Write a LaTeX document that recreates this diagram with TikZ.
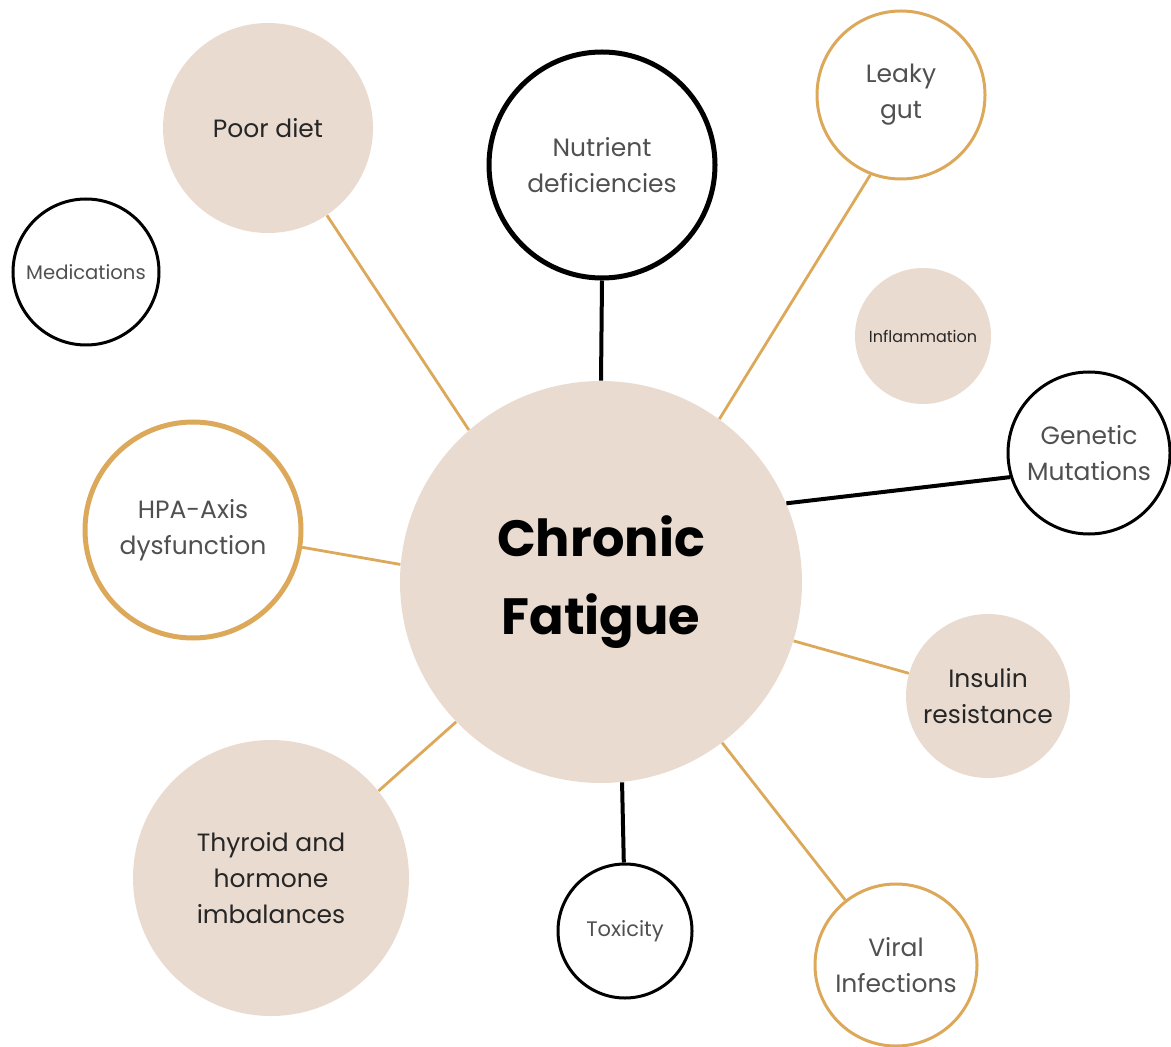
\documentclass[tikz,border=0pt]{standalone}
\usepackage{fontspec}
\setmainfont{Poppins}
\usepackage{tikz}
\usetikzlibrary{positioning}
\definecolor{sand}{HTML}{EADBD0}
\definecolor{mustard}{HTML}{DCA85A}
\definecolor{ink}{HTML}{505050}
\tikzset{%
  % circles round the hub
            hub/.style   = {circle, fill=sand, minimum size=201pt, align=center,
                            font=\fontsize{25.5}{39}\selectfont\bfseries},
            filled/.style = {circle, fill=sand, align=center, text=black!85,
                            font=\fontsize{12.5}{18}\selectfont},
            blackring/.style = {circle, draw=black, line width=1.5pt, align=center,
                            text=ink, font=\fontsize{12.5}{18}\selectfont},
            goldring/.style  = {circle, draw=mustard, line width=1.5pt, align=center,
                            text=ink, font=\fontsize{12.5}{18}\selectfont},
            goldlink/.style  = {draw=mustard, line width=1.4pt},
            blacklink/.style = {draw=black, line width=2pt}
}

\begin{document}
\begin{tikzpicture}[x=0.5pt, y=-0.5pt]
    \useasboundingbox (0,0) rectangle (1171,1047);

    \node (fatigue)  [hub]                                      at (601,582) {Chronic\\Fatigue};
    \node (diet)     [filled, minimum size=105pt]               at (268,128) {Poor diet};
    \node (nutrient) [blackring, minimum size=113pt, line width=2.5pt] at (602,165) {Nutrient\\deficiencies};
    \node (leaky)    [goldring, minimum size=84pt]              at (901,95)  {Leaky\\gut};
    \node (meds)     [blackring, minimum size=73pt, font=\fontsize{9.8}{12}\selectfont] at (86,272) {Medications};
    \node (inflam)   [filled, minimum size=68pt, font=\fontsize{8}{10}\selectfont] at (923,336) {Inflammation};
    \node (genetic)  [blackring, minimum size=81pt]             at (1089,453) {Genetic\\Mutations};
    \node (hpa)      [goldring, minimum size=108pt, line width=2.5pt] at (193,530) {HPA-Axis\\dysfunction};
    \node (insulin)  [filled, minimum size=82pt]                at (988,696) {Insulin\\resistance};
    \node (thyroid)  [filled, minimum size=138pt]               at (271,878) {Thyroid and\\hormone\\imbalances};
    \node (toxic)    [blackring, minimum size=67pt, font=\fontsize{10.5}{14}\selectfont] at (625,931) {Toxicity};
    \node (viral)    [goldring, minimum size=81pt]              at (896,965) {Viral\\Infections};

    \draw[goldlink]  (diet.304)    -- (fatigue.131);
    \draw[blacklink] (nutrient.south) -- (fatigue.north);
    \draw[goldlink]  (leaky.249)   -- (fatigue.54);
    \draw[blacklink] (genetic.197) -- (fatigue.23);
    \draw[goldlink]  (hpa.351)     -- (fatigue.175);
    \draw[goldlink]  (insulin.164) -- (fatigue.343);
    \draw[goldlink]  (thyroid.39)  -- (fatigue.224);
    \draw[blacklink] (toxic.91)    -- (fatigue.276);
    \draw[goldlink]  (viral.128)   -- (fatigue.307);
\end{tikzpicture}
\end{document}
